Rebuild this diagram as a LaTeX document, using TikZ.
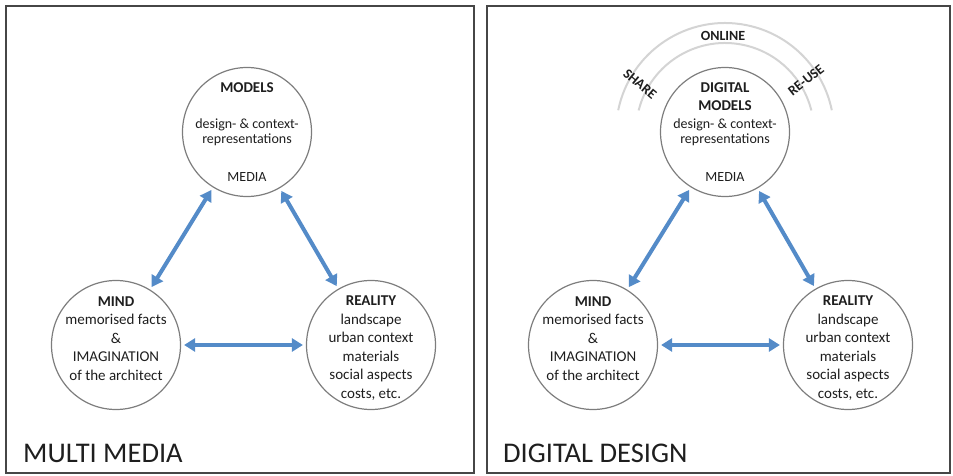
\documentclass[tikz,border=0pt]{standalone}
\usepackage{fontspec}
\setmainfont{Carlito}
\usetikzlibrary{arrows.meta}
\definecolor{linkblue}{RGB}{84,139,200}
\definecolor{ringgray}{RGB}{125,125,125}
\definecolor{panelgray}{RGB}{70,70,70}
\definecolor{arcgray}{RGB}{212,212,212}
\definecolor{textgray}{RGB}{30,30,30}
\tikzset{
  panel/.style={draw=panelgray, line width=1.6pt},
  ring/.style={circle, draw=ringgray, line width=1.2pt, minimum size=129pt, inner sep=0pt},
  link/.style={draw=linkblue, line width=4pt,
    {Triangle[length=11pt,width=13pt]}-{Triangle[length=11pt,width=13pt]},
    shorten <=3pt, shorten >=3pt},
  body/.style={align=center, inner sep=0pt, text=textgray, anchor=base,
    font=\fontsize{15}{18.5}\selectfont},
  small/.style={align=center, inner sep=0pt, text=textgray, anchor=base,
    font=\fontsize{14}{16}\selectfont},
  title/.style={inner sep=0pt, text=textgray, anchor=base west,
    font=\fontsize{28.5}{32}\selectfont},
  arcword/.style={inner sep=0pt, text=textgray,
    font=\fontsize{14}{16}\selectfont\bfseries},
  halo/.style={draw=arcgray, line width=2pt}
}
\begin{document}
\begin{tikzpicture}[x=1pt,y=-1pt]
\useasboundingbox (0,0) rectangle (953,476);
% panels
\draw[panel] (6,6) rectangle (474,473);
\draw[panel] (487,6) rectangle (950,473);

% ---------- left panel ----------
% (anchor=base of a multi-line node sits on its last line)
\node[ring] (models) at (247,132) {};
\node[ring] (mind) at (116,345) {};
\node[ring] (reality) at (371,345) {};
\node[body] (modelsT) at (247,93) {\bfseries MODELS};
\node[small] (modelsD) at (247,144) {design- \& context-\\representations};
\node[small] (modelsM) at (247,182) {MEDIA};
\node[body] (mindT) at (116,380) {\textbf{MIND}\\memorised facts\\\&\\IMAGINATION\\of the architect};
\node[body] (realityT) at (371,398) {\textbf{REALITY}\\landscape\\urban context\\materials\\social aspects\\costs, etc.};
\draw[link] (models) -- (mind);
\draw[link] (models) -- (reality);
\draw[link] (mind) -- (reality);
\node[title] (mm) at (23,462) {MULTI MEDIA};

% ---------- right panel ----------
\node[ring] (dmodels) at (725,132) {};
\node[ring] (dmind) at (593,345) {};
\node[ring] (dreality) at (848,345) {};
\draw[halo] (dmodels.center) ++(-166:89) arc[start angle=-166, end angle=-14, radius=89];
\draw[halo] (dmodels.center) ++(-168.5:109) arc[start angle=-168.5, end angle=-11.5, radius=109];
\node[arcword] (online) at (723,35.5) {ONLINE};
\node[arcword, rotate=-40] (share) at (640,84) {SHARE};
\node[arcword, rotate=38] (reuse) at (806,80) {RE-USE};
\node[body] (dmodelsT) at (725,111) {\bfseries DIGITAL\\\bfseries MODELS};
\node[small] (dmodelsD) at (725,144) {design- \& context-\\representations};
\node[small] (dmodelsM) at (725,182) {MEDIA};
\node[body] (dmindT) at (593,380) {\textbf{MIND}\\memorised facts\\\&\\IMAGINATION\\of the architect};
\node[body] (drealityT) at (848,398) {\textbf{REALITY}\\landscape\\urban context\\materials\\social aspects\\costs, etc.};
\draw[link] (dmodels) -- (dmind);
\draw[link] (dmodels) -- (dreality);
\draw[link] (dmind) -- (dreality);
\node[title] (dd) at (503,462) {DIGITAL DESIGN};
\end{tikzpicture}
\end{document}
